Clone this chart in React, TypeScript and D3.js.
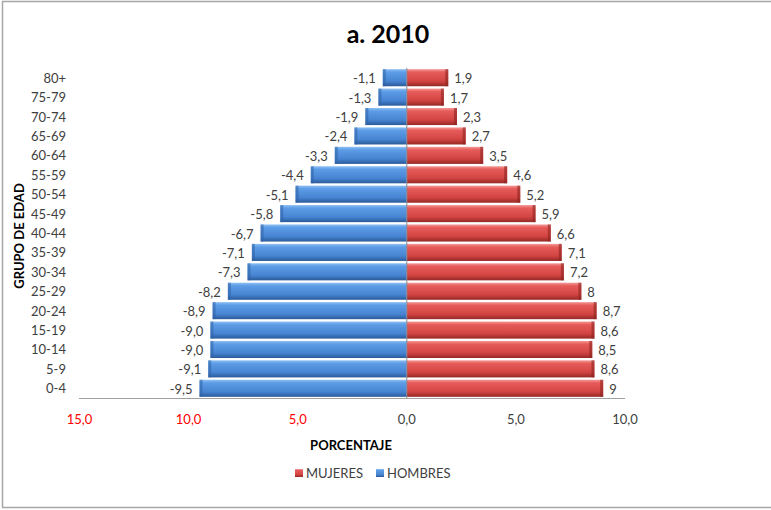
import React from "react";
import * as d3 from "d3";

const groups = ["80+", "75-79", "70-74", "65-69", "60-64", "55-59", "50-54", "45-49", "40-44", "35-39", "30-34", "25-29", "20-24", "15-19", "10-14", "5-9", "0-4"];
const hombres = [-1.1, -1.3, -1.9, -2.4, -3.3, -4.4, -5.1, -5.8, -6.7, -7.1, -7.3, -8.2, -8.9, -9.0, -9.0, -9.1, -9.5];
const mujeres = [1.9, 1.7, 2.3, 2.7, 3.5, 4.6, 5.2, 5.9, 6.6, 7.1, 7.2, 8, 8.7, 8.6, 8.5, 8.6, 9];
const xTicks = [-15, -10, -5, 0, 5, 10];
const xTickLabels = ["15,0", "10,0", "5,0", "0,0", "5,0", "10,0"];

const W = 771;
const H = 510;
const FONT = "Lato, 'Open Sans', sans-serif";

export default function App() {
  const x = d3.scaleLinear().domain([-15, 10]).range([79.5, 625]);
  const y = d3.scaleBand<string>().domain(groups).range([68, 398]).paddingInner(0.12).paddingOuter(0.06);
  const bw = y.bandwidth();
  const fmtM = (v: number) => v.toFixed(1).replace(".", ",");
  const fmtF = (v: number) => String(v).replace(".", ",");

  return (
    <svg width={W} height={H} style={{ position: "absolute", left: 0, top: 0, fontFamily: FONT }}>
      <defs>
        <linearGradient id="gBlue" x1="0" y1="0" x2="0" y2="1">
          <stop offset="0" stopColor="#8ec0f4" />
          <stop offset="0.18" stopColor="#5d9ce6" />
          <stop offset="0.7" stopColor="#4784d2" />
          <stop offset="1" stopColor="#2a5a9a" />
        </linearGradient>
        <linearGradient id="gRed" x1="0" y1="0" x2="0" y2="1">
          <stop offset="0" stopColor="#f49a98" />
          <stop offset="0.18" stopColor="#e65c5a" />
          <stop offset="0.7" stopColor="#d24442" />
          <stop offset="1" stopColor="#952826" />
        </linearGradient>
      </defs>
      <rect x={2.5} y={1.5} width={W + 5} height={506} fill="#fff" stroke="#a6a6a6" strokeWidth={1.5} />
      <text x={388} y={43} textAnchor="middle" fontSize={25} fontWeight="bold" fill="#000">a. 2010</text>

      {/* y labels */}
      {groups.map((g) => (
        <text key={g} x={66} y={(y(g) as number) + bw / 2 + 5} textAnchor="end" fontSize={13} fill="#404040">{g}</text>
      ))}
      <text transform={`translate(24,${236}) rotate(-90)`} textAnchor="middle" fontSize={13} fontWeight="bold" fill="#000">GRUPO DE EDAD</text>

      {/* bars */}
      {groups.map((g, i) => {
        const yy = y(g) as number;
        const xm = x(hombres[i]);
        const xf = x(mujeres[i]);
        const x0 = x(0);
        return (
          <g key={g}>
            <rect x={xm} y={yy} width={x0 - xm} height={bw} fill="url(#gBlue)" />
            <rect x={xm} y={yy} width={3} height={bw} fill="#2f62a6" opacity={0.55} />
            <rect x={x0} y={yy} width={xf - x0} height={bw} fill="url(#gRed)" />
            <rect x={xf - 3} y={yy} width={3} height={bw} fill="#8e2422" opacity={0.6} />
            <text x={xm - 7} y={yy + bw / 2 + 5.5} textAnchor="end" fontSize={13} fill="#404040">{fmtM(hombres[i])}</text>
            <text x={xf + 6} y={yy + bw / 2 + 5.5} textAnchor="start" fontSize={13} fill="#404040">{fmtF(mujeres[i])}</text>
          </g>
        );
      })}
      <line x1={x(0)} x2={x(0)} y1={68} y2={398} stroke="#7f8a99" strokeWidth={1} />

      {/* x axis */}
      <line x1={79} x2={625} y1={398.5} y2={398.5} stroke="#a0a0a0" strokeWidth={1} />
      {xTicks.map((t, i) => (
        <text key={t} x={x(t)} y={424} textAnchor="middle" fontSize={13} fill={t < 0 ? "#ff0000" : "#404040"}>{xTickLabels[i]}</text>
      ))}
      <text x={351} y={450} textAnchor="middle" fontSize={13} fontWeight="bold" fill="#000">PORCENTAJE</text>

      {/* legend */}
      <rect x={295} y={469} width={8} height={8} fill="url(#gRed)" />
      <text x={306} y={478} fontSize={13} fill="#404040">MUJERES</text>
      <rect x={376} y={469} width={8} height={8} fill="url(#gBlue)" />
      <text x={387} y={478} fontSize={13} fill="#404040">HOMBRES</text>
    </svg>
  );
}
